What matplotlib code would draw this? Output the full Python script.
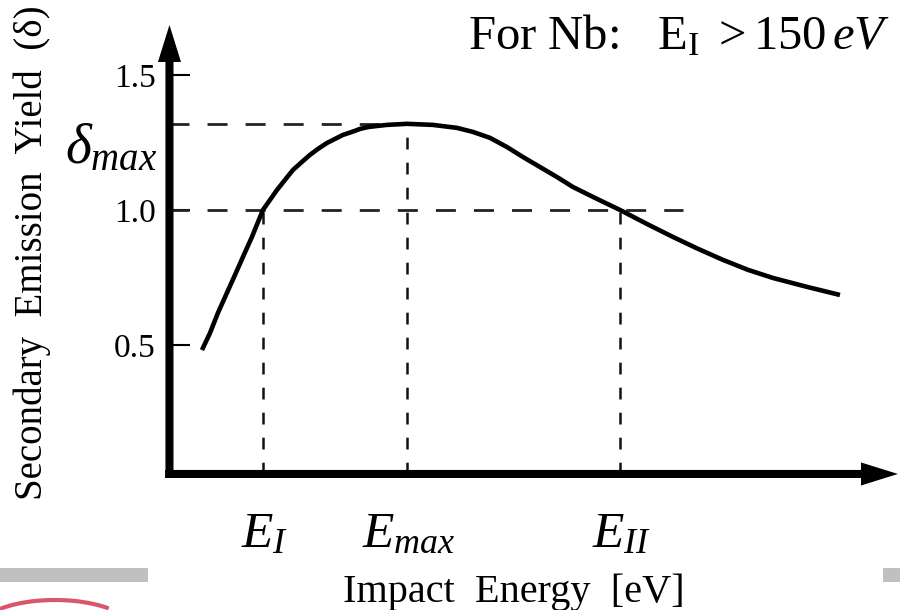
import matplotlib
matplotlib.use("Agg")
import matplotlib.pyplot as plt
from matplotlib.patches import Rectangle, Arc

# secondary emission yield curve (arbitrary energy units 0-100)
energy = [4.46, 5.56, 6.66, 7.89, 8.99, 10.09, 11.32, 12.83, 14.76, 15.85, 16.95,
          18.19, 19.29, 20.38, 21.62, 22.72, 23.82, 25.05, 26.15, 27.25, 28.48, 29.85,
          32.60, 36.17, 39.46, 41.66, 44.00, 46.33, 48.53, 50.86, 53.19, 55.39, 58.68,
          61.84, 65.55, 69.11, 72.55, 75.98, 79.42, 82.85, 87.52, 92.04]
yield_ = [0.481, 0.544, 0.619, 0.693, 0.759, 0.826, 0.900, 1.000, 1.074, 1.111, 1.148,
          1.178, 1.204, 1.226, 1.248, 1.263, 1.278, 1.289, 1.300, 1.307, 1.311, 1.315,
          1.319, 1.315, 1.304, 1.289, 1.267, 1.233, 1.196, 1.159, 1.122, 1.085, 1.041,
          1.000, 0.948, 0.900, 0.856, 0.815, 0.778, 0.748, 0.715, 0.685]

e_first = 12.83     # E_I
e_max = 32.60       # E_max
e_second = 61.84    # E_II
delta_max = 1.319
unity = 1.0
unity_end = 70.5    # where the dashed delta=1 guide stops

yticks = [0.5, 1.0, 1.5]
ytick_labels = ["0.5", "1.0", "1.5"]
xlim = (0, 100)
ylim = (0.022, 1.685)

plt.rcParams["font.family"] = ["Liberation Serif", "DejaVu Serif"]
plt.rcParams["mathtext.fontset"] = "custom"
plt.rcParams["mathtext.rm"] = "Liberation Serif"
plt.rcParams["mathtext.it"] = "Liberation Serif:italic"
plt.rcParams["lines.scale_dashes"] = False

fig = plt.figure(figsize=(9, 6.1), dpi=100)
ax = fig.add_axes([0.1883, 0.2230, 0.8094, 0.736])
ax.set_xlim(*xlim)
ax.set_ylim(*ylim)
for s in ax.spines.values():
    s.set_visible(False)

# axes drawn as thick arrows
arrow = dict(arrowstyle="simple,head_length=26.6,head_width=16.6,tail_width=5.8",
             mutation_scale=1, fc="black", ec="none", lw=0, shrinkA=0, shrinkB=0)
ax.annotate("", xy=(0, 1), xytext=(0, -0.009), xycoords="axes fraction",
            arrowprops=arrow, annotation_clip=False)
ax.annotate("", xy=(1, 0), xytext=(-0.006, 0), xycoords="axes fraction",
            arrowprops=arrow, annotation_clip=False)

# guide lines
dash_h = (0, (14.4, 13))
dash_v = (0, (8.5, 9.5))
ax.plot([xlim[0], e_max], [delta_max, delta_max], color="#222222", lw=2.0, linestyle=dash_h)
ax.plot([xlim[0], unity_end], [unity, unity], color="#222222", lw=2.0, linestyle=dash_h)
ax.plot([e_first, e_first], [ylim[0], unity], color="#111111", lw=1.8, linestyle=dash_v)
ax.plot([e_max, e_max], [ylim[0], delta_max], color="#111111", lw=1.8, linestyle=dash_v)
ax.plot([e_second, e_second], [ylim[0], unity], color="#111111", lw=1.8, linestyle=dash_v)

# the yield curve
ax.plot(energy, yield_, color="black", lw=3.3, solid_capstyle="butt",
        solid_joinstyle="round")

ax.set_xticks([])
ax.set_yticks(yticks)
ax.set_yticklabels(ytick_labels)
ax.tick_params(axis="y", direction="in", length=15, width=1.5, pad=10,
               labelsize=24, colors="black")

# annotations
ax.annotate(r"$\delta_{max}$", xy=(0, delta_max), xycoords=("axes fraction", "data"),
            xytext=(-12.5, -39), textcoords="offset pixels",
            ha="right", va="baseline", fontsize=40, annotation_clip=False)
for e, lab in [(e_first, r"$E_{I}$"), (e_max, r"$E_{max}$"), (e_second, r"$E_{II}$")]:
    ax.annotate(lab, xy=(e, 0), xycoords=("data", "axes fraction"),
                xytext=(2, -73), textcoords="offset pixels",
                ha="center", va="baseline", fontsize=37, annotation_clip=False)

fig.text(514 / 900, 1 - 602 / 610, "Impact  Energy  [eV]", ha="center",
         va="baseline", fontsize=29)
fig.text(32 / 900, 1 - 253 / 610, "Secondary  Emission  Yield  (δ)", rotation=90,
         ha="center", va="center", fontsize=28)
fig.text(890 / 900, 1 - 49 / 610, r"For Nb:   E$_{\mathrm{I}}$ $>$150$\,eV$",
         ha="right", va="baseline", fontsize=35)

# slide footer remnants
fig.add_artist(Rectangle((0, 1 - 582 / 610), 148 / 900, 14 / 610,
                         transform=fig.transFigure, color="#c0c0c0", lw=0))
fig.add_artist(Rectangle((883 / 900, 1 - 582 / 610), 17 / 900, 14 / 610,
                         transform=fig.transFigure, color="#c0c0c0", lw=0))
fig.add_artist(Arc((55, -18), 150, 56, theta1=20, theta2=175, transform=None,
                   color="#c8102e", lw=3, alpha=0.7))

fig.savefig("out.png", dpi=100)
